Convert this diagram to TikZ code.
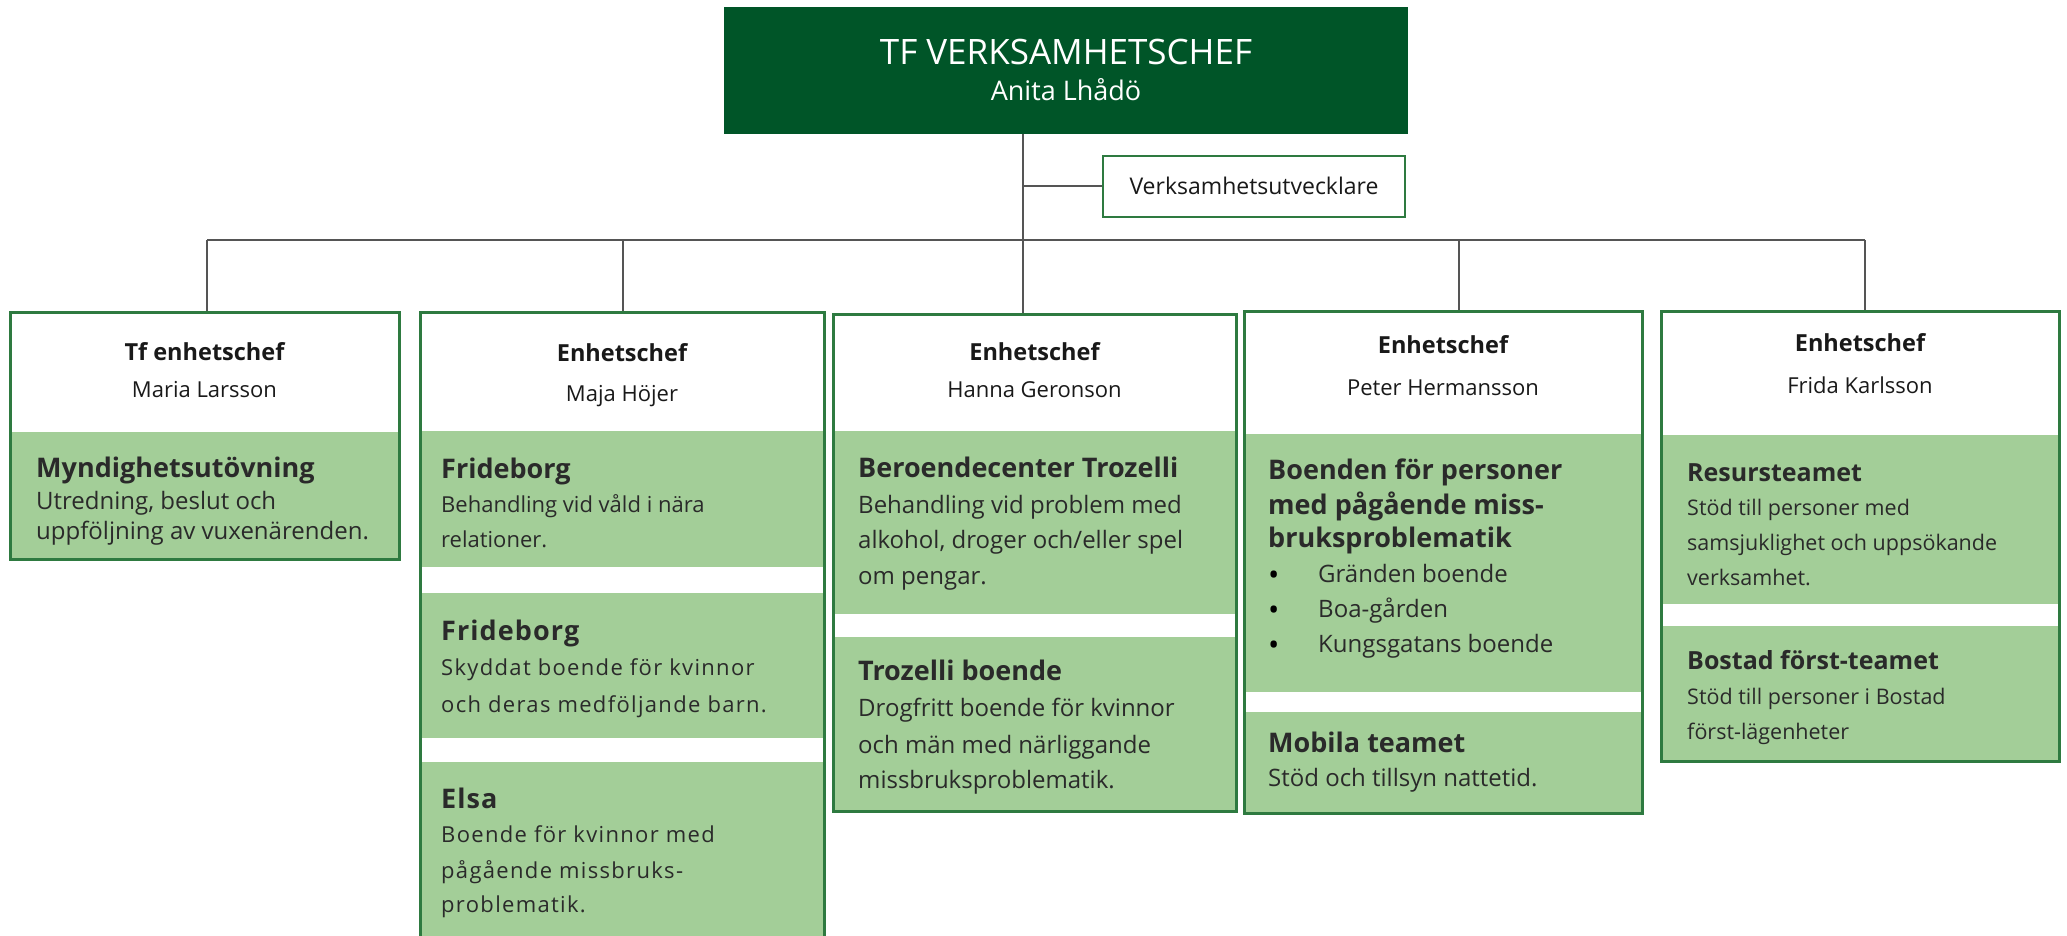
\documentclass[tikz,border=0pt]{standalone}
\usepackage{fontspec}
\setmainfont{Open Sans}
\definecolor{topg}{HTML}{005528}
\definecolor{bord}{HTML}{2E7A40}
\definecolor{pan}{HTML}{A3CE98}
\definecolor{conc}{HTML}{555555}
\definecolor{bodyc}{HTML}{2A2A2A}
\newcommand\myfs[1]{\fontsize{#1pt}{#1pt}\selectfont}
\begin{document}
\begin{tikzpicture}[x=1pt,y=-1pt,
  conn/.style={draw=conc,line width=2pt},
  unitbox/.style={draw=bord,line width=3pt,inner sep=0},
  panel/.style={fill=pan,inner sep=0},
  lt/.style={anchor=base west,inner sep=0,text=bodyc},
  ct/.style={anchor=base,inner sep=0,text=black!90},
  hd/.style={lt,font=\bfseries\myfs{#1}},
  bd/.style={lt,font=\myfs{#1}},
  sp/.style={lt,font=\myfs{#1}\addfontfeatures{LetterSpace=6}},
  sph/.style={lt,font=\bfseries\myfs{#1}\addfontfeatures{LetterSpace=4}},
  eh/.style={ct,font=\bfseries\myfs{23.5}},
  nm/.style={ct,font=\myfs{22}},
  bul/.style={anchor=base west,inner sep=0,text=black,font=\myfs{30}}
]
\useasboundingbox (0,0) rectangle (2067,936);
\clip (0,0) rectangle (2067,936);

% top
\node[fill=topg,minimum width=684pt,minimum height=127pt,inner sep=0] (top) at (1066,70.5) {};
\node[ct,text=white,font=\myfs{35}] (topt) at (1066,65) {TF VERKSAMHETSCHEF};
\node[ct,text=white,font=\myfs{27}] (topn) at (1066,101) {Anita Lhådö};

\node[unitbox,line width=2.5pt,fill=white,minimum width=302pt,minimum height=61pt] (verk) at (1254,186.5) {};
\node[ct,font=\myfs{23}] (verkt) at (1254,195) {Verksamhetsutvecklare};

% unit boxes
\node[panel,minimum width=389pt,minimum height=127pt] (p11) at (204.5,495.5) {};
\node[unitbox,minimum width=389pt,minimum height=247pt] (u1) at (204.5,435.5) {};

\node[panel,minimum width=404pt,minimum height=136pt] (p21) at (622,499) {};
\node[panel,minimum width=404pt,minimum height=145pt] (p22) at (622,665.5) {};
\node[panel,minimum width=404pt,minimum height=198pt] (p23) at (622,861) {};
\node[unitbox,minimum width=404pt,minimum height=648pt] (u2) at (622,636) {};

\node[panel,minimum width=403pt,minimum height=183pt] (p31) at (1034.5,522.5) {};
\node[panel,minimum width=403pt,minimum height=174pt] (p32) at (1034.5,724) {};
\node[unitbox,minimum width=403pt,minimum height=497pt] (u3) at (1034.5,562.5) {};

\node[panel,minimum width=398pt,minimum height=258pt] (p41) at (1443,563) {};
\node[panel,minimum width=398pt,minimum height=101pt] (p42) at (1443,762.5) {};
\node[unitbox,minimum width=398pt,minimum height=502pt] (u4) at (1443,562) {};

\node[panel,minimum width=398pt,minimum height=169pt] (p51) at (1860,519.5) {};
\node[panel,minimum width=398pt,minimum height=135pt] (p52) at (1860,693.5) {};
\node[unitbox,minimum width=398pt,minimum height=450pt] (u5) at (1860,536) {};

% connectors
\coordinate (d1) at (207,240);
\coordinate (d2) at (623,240);
\coordinate (d3) at (1023,240);
\coordinate (d4) at (1459,240);
\coordinate (d5) at (1865,240);
\draw[conn] (d1) -- (d5);
\draw[conn] (d3 |- top.south) -- (d3 |- u3.north);
\draw[conn] (d3 |- verk.west) -- (verk.west);
\draw[conn] (d1) -- (d1 |- u1.north);
\draw[conn] (d2) -- (d2 |- u2.north);
\draw[conn] (d4) -- (d4 |- u4.north);
\draw[conn] (d5) -- (d5 |- u5.north);

% box 1
\node[eh] (h1a) at (204.5,360) {Tf enhetschef};
\node[nm] (h1b) at (204.5,397) {Maria Larsson};
\node[hd=27] (a11) at (36,477) {Myndighetsutövning};
\node[bd=24] (a12) at (36,509) {Utredning, beslut och};
\node[bd=24] (a13) at (36,539) {uppföljning av vuxenärenden.};

% box 2
\node[eh] (h2a) at (622,361) {Enhetschef};
\node[nm] (h2b) at (622,401) {Maja Höjer};
\node[hd=27] (a21) at (441,478) {Frideborg};
\node[bd=22] (a22) at (441,512) {Behandling vid våld i nära};
\node[bd=22] (a23) at (441,547) {relationer.};
\node[sph=27] (a24) at (441,640) {Frideborg};
\node[sp=22] (a25) at (441,675) {Skyddat boende för kvinnor};
\node[sp=22] (a26) at (441,712) {och deras medföljande barn.};
\node[sph=27] (a27) at (441,808) {Elsa};
\node[sp=22] (a28) at (441,842) {Boende för kvinnor med};
\node[sp=22] (a29) at (441,878) {pågående missbruks-};
\node[sp=22] (a2a) at (441,912) {problematik.};

% box 3
\node[eh] (h3a) at (1034.5,360) {Enhetschef};
\node[nm] (h3b) at (1034.5,397) {Hanna Geronson};
\node[hd=27] (a31) at (858,477) {Beroendecenter Trozelli};
\node[bd=24] (a32) at (858,513) {Behandling vid problem med};
\node[bd=24] (a33) at (858,548) {alkohol, droger och/eller spel};
\node[bd=24] (a34) at (858,584) {om pengar.};
\node[hd=27] (a35) at (858,680) {Trozelli boende};
\node[bd=24] (a36) at (858,716) {Drogfritt boende för kvinnor};
\node[bd=24] (a37) at (858,753) {och män med närliggande};
\node[bd=24] (a38) at (858,788) {missbruksproblematik.};

% box 4
\node[eh] (h4a) at (1443,353) {Enhetschef};
\node[nm] (h4b) at (1443,395) {Peter Hermansson};
\node[hd=27] (a41) at (1268,479) {Boenden för personer};
\node[hd=27] (a42) at (1268,514) {med pågående miss-};
\node[hd=27] (a43) at (1268,547) {bruksproblematik};
\node[bul] (b41) at (1268,585) {•};
\node[bul] (b42) at (1268,620) {•};
\node[bul] (b43) at (1268,655) {•};
\node[bd=24] (a44) at (1318,582) {Gränden boende};
\node[bd=24] (a45) at (1318,617) {Boa-gården};
\node[bd=24] (a46) at (1318,652) {Kungsgatans boende};
\node[hd=27] (a47) at (1268,752) {Mobila teamet};
\node[bd=24] (a48) at (1268,786) {Stöd och tillsyn nattetid.};

% box 5
\node[eh] (h5a) at (1860,351) {Enhetschef};
\node[nm] (h5b) at (1860,393) {Frida Karlsson};
\node[hd=25] (a51) at (1687,481) {Resursteamet};
\node[bd=21.5] (a52) at (1687,515) {Stöd till personer med};
\node[bd=21.5] (a53) at (1687,550) {samsjuklighet och uppsökande};
\node[bd=21.5] (a54) at (1687,585) {verksamhet.};
\node[hd=25] (a55) at (1687,669) {Bostad först-teamet};
\node[bd=21.5] (a56) at (1687,704) {Stöd till personer i Bostad};
\node[bd=21.5] (a57) at (1687,739) {först-lägenheter};
\end{tikzpicture}
\end{document}
